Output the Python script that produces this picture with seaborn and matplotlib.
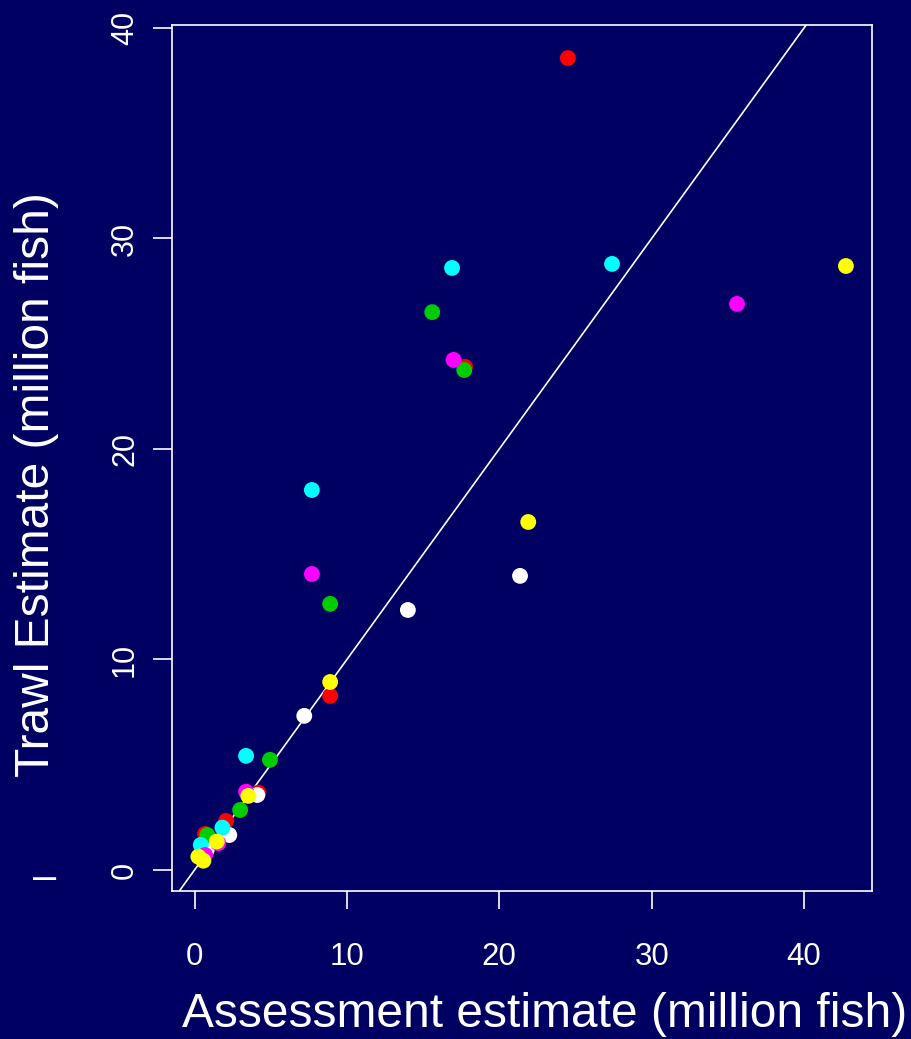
import numpy as np
import pandas as pd
import matplotlib
matplotlib.use("Agg")
import matplotlib.pyplot as plt
import seaborn as sns

# --- data (million fish) ---
red_x = [24.5, 17.75, 8.9, 4.19, 2.07, 0.69]
red_y = [38.57, 23.9, 8.27, 3.67, 2.33, 1.71]
white_x = [21.36, 14.0, 7.2, 4.12, 2.28, 0.8]
white_y = [13.97, 12.35, 7.32, 3.56, 1.66, 0.95]
green_x = [15.6, 17.7, 8.9, 4.95, 2.99, 0.84]
green_y = [26.5, 23.75, 12.64, 5.23, 2.85, 1.66]
cyan_x = [27.4, 16.9, 7.7, 3.38, 1.83, 0.41]
cyan_y = [28.79, 28.6, 18.05, 5.42, 2.01, 1.19]
magenta_x = [35.6, 17.0, 7.7, 3.38, 1.56, 0.69]
magenta_y = [26.89, 24.23, 14.06, 3.72, 1.27, 0.71]
yellow_x = [42.75, 21.9, 8.9, 3.53, 1.46, 0.25, 0.58]
yellow_y = [28.69, 16.53, 8.93, 3.52, 1.35, 0.63, 0.44]

groups = ["red", "white", "green", "cyan", "magenta", "yellow"]
colors = {"red": "#FF0000", "white": "#FFFFFF", "green": "#00CD00",
          "cyan": "#00FFFF", "magenta": "#FF00FF", "yellow": "#FFFF00"}
xs = [red_x, white_x, green_x, cyan_x, magenta_x, yellow_x]
ys = [red_y, white_y, green_y, cyan_y, magenta_y, yellow_y]

df = pd.concat([pd.DataFrame({"assess": x, "trawl": y, "grp": g})
                for g, x, y in zip(groups, xs, ys)], ignore_index=True)

bg = "#000062"
sns.set_style("white")
plt.rcParams["font.family"] = ["Liberation Sans", "DejaVu Sans"]

fig = plt.figure(figsize=(9.11, 10.39), dpi=100, facecolor=bg)
ax = fig.add_axes([172 / 911, 1 - 891 / 1039, 700 / 911, 866 / 1039])
ax.set_facecolor(bg)

sns.scatterplot(data=df, x="assess", y="trawl", hue="grp", palette=colors,
                s=130, linewidth=0, legend=False, ax=ax, zorder=3)
# 1:1 line
ax.axline((0, 0), slope=1, color="white", lw=1.2, zorder=2)

ax.set_xlim(-1.48, 44.46)
ax.set_ylim(-1.0, 40.14)
ax.set_xticks([0, 10, 20, 30, 40])
ax.set_yticks([0, 10, 20, 30, 40])
for sp in ax.spines.values():
    sp.set_color("white")
    sp.set_linewidth(1.2)
ax.tick_params(axis="x", bottom=True, colors="white", length=13, width=1.2,
               pad=24, labelsize=22.5)
ax.tick_params(axis="y", left=True, colors="white", length=14, width=1.2,
               pad=9, labelsize=22)
for lab in ax.get_yticklabels():
    lab.set_rotation(90)
    lab.set_va("center")

ax.set_xlabel("Assessment estimate (million fish)", color="white", fontsize=34.5,
              va="center", ha="center")
ax.xaxis.set_label_coords(0.533, -0.143)
ax.set_ylabel("Trawl Estimate (million fish)", color="white", fontsize=34.5,
              va="center", ha="center")
ax.yaxis.set_label_coords(-0.193, 0.469)
fig.text(45 / 911, 1 - 878 / 1039, "\u2013", color="white", fontsize=30,
         ha="center", va="center")

fig.savefig("out.png", dpi=100, facecolor=bg)
